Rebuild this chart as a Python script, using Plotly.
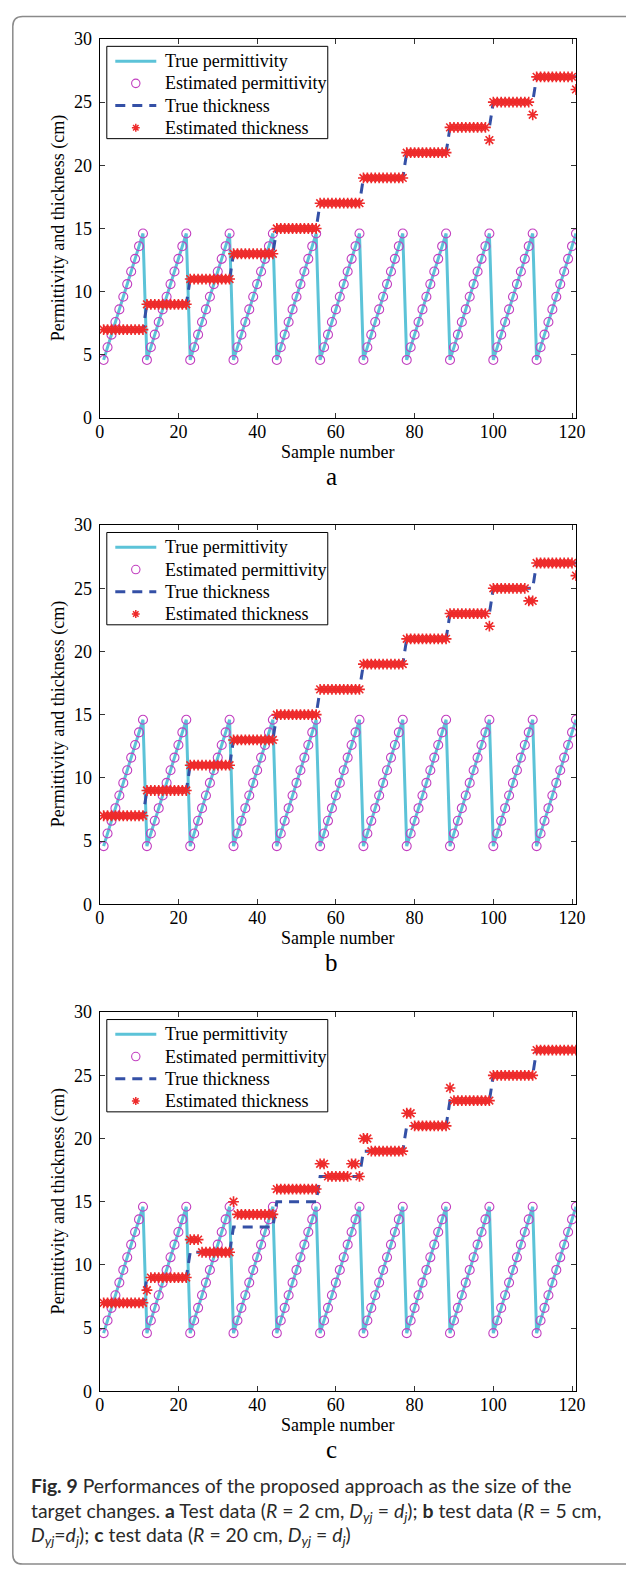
import plotly.graph_objects as go

W, H = 626, 1578

# ---------------- data ----------------
samples = list(range(1, 122))

permittivity = [
    4.6, 5.6, 6.6, 7.6, 8.6, 9.6, 10.6, 11.6, 12.6, 13.6, 14.6,
    4.6, 5.6, 6.6, 7.6, 8.6, 9.6, 10.6, 11.6, 12.6, 13.6, 14.6,
    4.6, 5.6, 6.6, 7.6, 8.6, 9.6, 10.6, 11.6, 12.6, 13.6, 14.6,
    4.6, 5.6, 6.6, 7.6, 8.6, 9.6, 10.6, 11.6, 12.6, 13.6, 14.6,
    4.6, 5.6, 6.6, 7.6, 8.6, 9.6, 10.6, 11.6, 12.6, 13.6, 14.6,
    4.6, 5.6, 6.6, 7.6, 8.6, 9.6, 10.6, 11.6, 12.6, 13.6, 14.6,
    4.6, 5.6, 6.6, 7.6, 8.6, 9.6, 10.6, 11.6, 12.6, 13.6, 14.6,
    4.6, 5.6, 6.6, 7.6, 8.6, 9.6, 10.6, 11.6, 12.6, 13.6, 14.6,
    4.6, 5.6, 6.6, 7.6, 8.6, 9.6, 10.6, 11.6, 12.6, 13.6, 14.6,
    4.6, 5.6, 6.6, 7.6, 8.6, 9.6, 10.6, 11.6, 12.6, 13.6, 14.6,
    4.6, 5.6, 6.6, 7.6, 8.6, 9.6, 10.6, 11.6, 12.6, 13.6, 14.6,
]

est_permittivity = [
    4.6, 5.6, 6.6, 7.6, 8.6, 9.6, 10.6, 11.6, 12.6, 13.6, 14.6,
    4.6, 5.6, 6.6, 7.6, 8.6, 9.6, 10.6, 11.6, 12.6, 13.6, 14.6,
    4.6, 5.6, 6.6, 7.6, 8.6, 9.6, 10.6, 11.6, 12.6, 13.6, 14.6,
    4.6, 5.6, 6.6, 7.6, 8.6, 9.6, 10.6, 11.6, 12.6, 13.6, 14.6,
    4.6, 5.6, 6.6, 7.6, 8.6, 9.6, 10.6, 11.6, 12.6, 13.6, 14.6,
    4.6, 5.6, 6.6, 7.6, 8.6, 9.6, 10.6, 11.6, 12.6, 13.6, 14.6,
    4.6, 5.6, 6.6, 7.6, 8.6, 9.6, 10.6, 11.6, 12.6, 13.6, 14.6,
    4.6, 5.6, 6.6, 7.6, 8.6, 9.6, 10.6, 11.6, 12.6, 13.6, 14.6,
    4.6, 5.6, 6.6, 7.6, 8.6, 9.6, 10.6, 11.6, 12.6, 13.6, 14.6,
    4.6, 5.6, 6.6, 7.6, 8.6, 9.6, 10.6, 11.6, 12.6, 13.6, 14.6,
    4.6, 5.6, 6.6, 7.6, 8.6, 9.6, 10.6, 11.6, 12.6, 13.6, 14.6,
]

true_thickness = [
    7, 7, 7, 7, 7, 7, 7, 7, 7, 7, 7,
    9, 9, 9, 9, 9, 9, 9, 9, 9, 9, 9,
    11, 11, 11, 11, 11, 11, 11, 11, 11, 11, 11,
    13, 13, 13, 13, 13, 13, 13, 13, 13, 13, 13,
    15, 15, 15, 15, 15, 15, 15, 15, 15, 15, 15,
    17, 17, 17, 17, 17, 17, 17, 17, 17, 17, 17,
    19, 19, 19, 19, 19, 19, 19, 19, 19, 19, 19,
    21, 21, 21, 21, 21, 21, 21, 21, 21, 21, 21,
    23, 23, 23, 23, 23, 23, 23, 23, 23, 23, 23,
    25, 25, 25, 25, 25, 25, 25, 25, 25, 25, 25,
    27, 27, 27, 27, 27, 27, 27, 27, 27, 27, 27,
]

est_thickness_a = [
    7, 7, 7, 7, 7, 7, 7, 7, 7, 7, 7,
    9, 9, 9, 9, 9, 9, 9, 9, 9, 9, 9,
    11, 11, 11, 11, 11, 11, 11, 11, 11, 11, 11,
    13, 13, 13, 13, 13, 13, 13, 13, 13, 13, 13,
    15, 15, 15, 15, 15, 15, 15, 15, 15, 15, 15,
    17, 17, 17, 17, 17, 17, 17, 17, 17, 17, 17,
    19, 19, 19, 19, 19, 19, 19, 19, 19, 19, 19,
    21, 21, 21, 21, 21, 21, 21, 21, 21, 21, 21,
    23, 23, 23, 23, 23, 23, 23, 23, 23, 23, 22,
    25, 25, 25, 25, 25, 25, 25, 25, 25, 25, 24,
    27, 27, 27, 27, 27, 27, 27, 27, 27, 27, 26,
]

est_thickness_b = [
    7, 7, 7, 7, 7, 7, 7, 7, 7, 7, 7,
    9, 9, 9, 9, 9, 9, 9, 9, 9, 9, 9,
    11, 11, 11, 11, 11, 11, 11, 11, 11, 11, 11,
    13, 13, 13, 13, 13, 13, 13, 13, 13, 13, 13,
    15, 15, 15, 15, 15, 15, 15, 15, 15, 15, 15,
    17, 17, 17, 17, 17, 17, 17, 17, 17, 17, 17,
    19, 19, 19, 19, 19, 19, 19, 19, 19, 19, 19,
    21, 21, 21, 21, 21, 21, 21, 21, 21, 21, 21,
    23, 23, 23, 23, 23, 23, 23, 23, 23, 23, 22,
    25, 25, 25, 25, 25, 25, 25, 25, 25, 24, 24,
    27, 27, 27, 27, 27, 27, 27, 27, 27, 27, 26,
]

est_thickness_c = [
    7, 7, 7, 7, 7, 7, 7, 7, 7, 7, 7,
    8, 9, 9, 9, 9, 9, 9, 9, 9, 9, 9,
    12, 12, 12, 11, 11, 11, 11, 11, 11, 11, 11,
    15, 14, 14, 14, 14, 14, 14, 14, 14, 14, 14,
    16, 16, 16, 16, 16, 16, 16, 16, 16, 16, 16,
    18, 18, 17, 17, 17, 17, 17, 17, 18, 18, 17,
    20, 20, 19, 19, 19, 19, 19, 19, 19, 19, 19,
    22, 22, 21, 21, 21, 21, 21, 21, 21, 21, 21,
    24, 23, 23, 23, 23, 23, 23, 23, 23, 23, 23,
    25, 25, 25, 25, 25, 25, 25, 25, 25, 25, 25,
    27, 27, 27, 27, 27, 27, 27, 27, 27, 27, 27,
]

panels = [
    ("a", est_thickness_a),
    ("b", est_thickness_b),
    ("c", est_thickness_c),
]

series_names = ["True permittivity", "Estimated permittivity",
                "True thickness", "Estimated thickness"]

x_ticks = [0, 20, 40, 60, 80, 100, 120]
y_ticks = [0, 5, 10, 15, 20, 25, 30]

# ---------------- style ----------------
SERIF = "Liberation Serif, Times New Roman, serif"
SANS = "Lato, Noto Sans, sans-serif"
C_PERM = "#5CC3D8"
C_EPERM = "#C23FC0"
C_THK = "#3450A6"
C_ETHK = "#EE2B2B"
THK_DASH = "10px,7px"

PLOT_L, PLOT_R = 97, 585
TOPS = [29.3, 521.7, 1015.0]
PH = 384.0


def px(x):
    return x / W


def py(y):
    return 1 - y / H


fig = go.Figure()
annotations = []
shapes = []
layout_axes = {}

for i, (letter, est_thk) in enumerate(panels):
    n = "" if i == 0 else str(i + 1)
    xa, ya = "x" + n, "y" + n
    top = TOPS[i]
    fig.add_trace(go.Scatter(
        x=samples, y=permittivity, mode="lines", name=series_names[0],
        line=dict(color=C_PERM, width=3), xaxis=xa, yaxis=ya, showlegend=False))
    fig.add_trace(go.Scatter(
        x=samples, y=est_permittivity, mode="markers", name=series_names[1],
        marker=dict(symbol="circle-open", size=9, color=C_EPERM, line=dict(width=1.1)),
        xaxis=xa, yaxis=ya, showlegend=False))
    fig.add_trace(go.Scatter(
        x=samples, y=true_thickness, mode="lines", name=series_names[2],
        line=dict(color=C_THK, width=3, dash=THK_DASH), xaxis=xa, yaxis=ya,
        showlegend=False))
    fig.add_trace(go.Scatter(
        x=samples, y=est_thk, mode="markers", name=series_names[3],
        marker=dict(symbol="asterisk-open", size=9, color=C_ETHK,
                    line=dict(width=1.6, color=C_ETHK)),
        xaxis=xa, yaxis=ya, showlegend=False))

    common = dict(showline=True, linecolor="black", linewidth=1, mirror="ticks",
                  ticks="inside", ticklen=5, tickwidth=1, tickcolor="#333",
                  showgrid=False, zeroline=False,
                  tickfont=dict(family=SERIF, size=18, color="black"))
    layout_axes["xaxis" + n] = dict(
        domain=[px(PLOT_L), px(PLOT_R)], range=[0, 121], tickvals=x_ticks,
        anchor=ya, ticklabelstandoff=-3, **common)
    layout_axes["yaxis" + n] = dict(
        domain=[py(top + PH), py(top)], range=[0, 30], tickvals=y_ticks,
        anchor=xa, ticklabelstandoff=3, **common)

    # ----- legend box (drawn as shapes + text) -----
    lx0, lx1 = 104.3, 330.7
    ly0, ly1 = top + 7.5, top + 101.0
    shapes.append(dict(type="rect", xref="paper", yref="paper",
                       x0=px(lx0), x1=px(lx1), y0=py(ly1), y1=py(ly0),
                       line=dict(color="black", width=1), fillcolor="white",
                       layer="above"))
    rows = [top + 22.5, top + 45.0, top + 67.5, top + 90.0]
    sx0, sx1, sxc = 113.0, 155.0, 134.0
    # row 1: solid cyan line
    shapes.append(dict(type="line", xref="paper", yref="paper",
                       x0=px(sx0), x1=px(sx1), y0=py(rows[0]), y1=py(rows[0]),
                       line=dict(color=C_PERM, width=3), layer="above"))
    # row 2: open circle
    rr = 4.3
    shapes.append(dict(type="circle", xref="paper", yref="paper",
                       x0=px(sxc - rr), x1=px(sxc + rr),
                       y0=py(rows[1] + rr), y1=py(rows[1] - rr),
                       line=dict(color=C_EPERM, width=1.1), layer="above"))
    # row 3: dashed blue line
    shapes.append(dict(type="line", xref="paper", yref="paper",
                       x0=px(sx0), x1=px(sx1), y0=py(rows[2]), y1=py(rows[2]),
                       line=dict(color=C_THK, width=3, dash=THK_DASH), layer="above"))
    # row 4: asterisk
    a, d = 4.0, 2.8
    yc = rows[3]
    ast = (f"M {px(sxc - a)},{py(yc)} L {px(sxc + a)},{py(yc)} "
           f"M {px(sxc)},{py(yc - a)} L {px(sxc)},{py(yc + a)} "
           f"M {px(sxc - d)},{py(yc - d)} L {px(sxc + d)},{py(yc + d)} "
           f"M {px(sxc - d)},{py(yc + d)} L {px(sxc + d)},{py(yc - d)}")
    shapes.append(dict(type="path", xref="paper", yref="paper", path=ast,
                       line=dict(color=C_ETHK, width=1.5), layer="above"))
    for name, ry in zip(series_names, rows):
        annotations.append(dict(
            text=name, x=px(161.5), y=py(ry), xref="paper", yref="paper",
            showarrow=False, xanchor="left", yanchor="middle",
            font=dict(family=SERIF, size=18, color="black")))

    annotations.append(dict(
        text="Permittivity and thickness (cm)", textangle=-90,
        x=px(55), y=py(top + PH / 2), xref="paper", yref="paper",
        showarrow=False, xanchor="center", yanchor="middle",
        font=dict(family=SERIF, size=18, color="black")))
    annotations.append(dict(
        text="Sample number", x=px(341), y=py(top + PH + 34),
        xref="paper", yref="paper", showarrow=False,
        xanchor="center", yanchor="middle",
        font=dict(family=SERIF, size=18, color="black")))
    annotations.append(dict(
        text=letter, x=px(335), y=py(top + PH + 59),
        xref="paper", yref="paper", showarrow=False,
        xanchor="center", yanchor="middle",
        font=dict(family=SERIF, size=25, color="black")))

caption_lines = [
    "<b>Fig. 9</b> Performances of the proposed approach as the size of the",
    "target changes. <b>a</b> Test data (<i>R</i> = 2 cm, <i>D</i><sub><i>yj</i></sub> = "
    "<i>d</i><sub><i>j</i></sub>); <b>b</b> test data (<i>R</i> = 5 cm,",
    "<i>D</i><sub><i>yj</i></sub>=<i>d</i><sub><i>j</i></sub>); <b>c</b> test data "
    "(<i>R</i> = 20 cm, <i>D</i><sub><i>yj</i></sub> = <i>d</i><sub><i>j</i></sub>)",
]
caption_y = [1494, 1521, 1546]
for line, yy in zip(caption_lines, caption_y):
    annotations.append(dict(
        text=line, x=px(25), y=py(yy), xref="paper", yref="paper",
        showarrow=False, xanchor="left", yanchor="middle", align="left",
        font=dict(family=SANS, size=19.4, color="#2a2a2a")))

# outer frame (open on the right, where it runs off the picture)
x0, xr, y0, y1, r = 8.0, W + 30.0, 6.5, 1574.0, 10.0
frame_path = (
    f"M {px(xr)},{py(y0)} L {px(x0 + r)},{py(y0)} "
    f"Q {px(x0)},{py(y0)} {px(x0)},{py(y0 + r)} "
    f"L {px(x0)},{py(y1 - r)} Q {px(x0)},{py(y1)} {px(x0 + r)},{py(y1)} "
    f"L {px(xr)},{py(y1)}"
)
shapes.insert(0, dict(type="path", path=frame_path, xref="paper", yref="paper",
                      line=dict(color="#8a8a8a", width=1.5), layer="below"))

fig.update_layout(
    width=W, height=H,
    margin=dict(l=0, r=0, t=0, b=0),
    paper_bgcolor="white", plot_bgcolor="white",
    showlegend=False,
    annotations=annotations,
    shapes=shapes,
    **layout_axes,
)

fig.write_html("out.html")
